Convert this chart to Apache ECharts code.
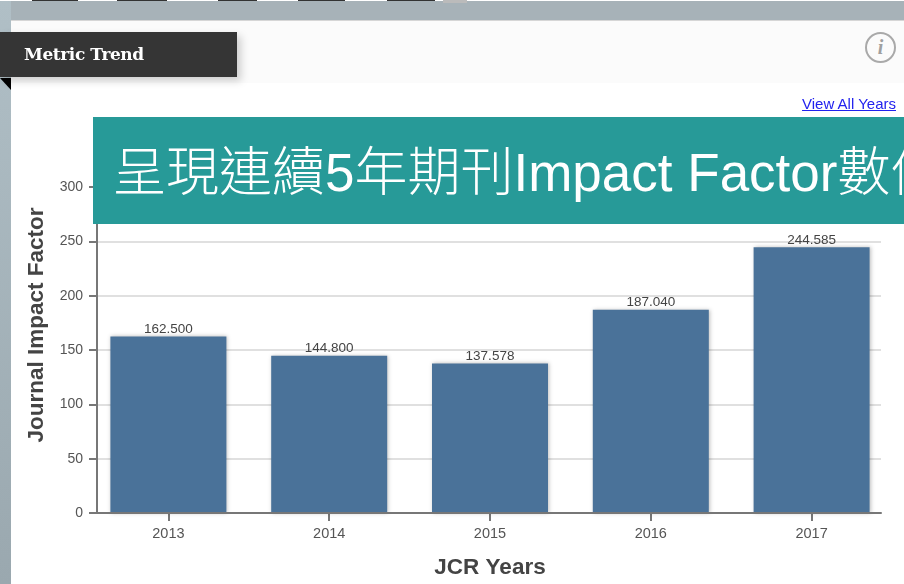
<!DOCTYPE html>
<html>
<head>
<meta charset="utf-8">
<title>Metric Trend</title>
<script src="https://cdn.jsdelivr.net/npm/echarts@6/dist/echarts.min.js"></script>
<style>
    html, body { margin: 0; padding: 0; background: #fff; }
    #page { position: relative; width: 904px; height: 584px; overflow: hidden; background: #fff; }
    #page div, #page a { position: absolute; }
    #top_band { left: 0; top: 1px; width: 904px; height: 19px; background: #a7b2b8; }
    #left_band { left: 0; top: 1px; width: 11px; height: 583px; background: linear-gradient(#b0bfc6, #9aa8af); }
    #card_head { left: 11px; top: 20px; width: 893px; height: 63px; background: #fbfbfb; border-top: 1px solid #d6d6d6; box-sizing: border-box; }
    #main { position: absolute; left: 0; top: 0; width: 904px; height: 584px; }
    #ribbon { left: 0; top: 32px; width: 237px; height: 45px; background: #353535; box-shadow: 4px 4px 8px rgba(0,0,0,.18);
        color: #fff; font: bold 17px/45px "DejaVu Serif", serif; text-indent: 24px; letter-spacing: -0.4px; }
    #ribbon_fold { left: 0; top: 78px; width: 0; height: 0; border-top: 12px solid #000; border-left: 11px solid transparent; }
    #info { left: 865px; top: 32px; width: 27px; height: 27px; border: 2px solid #a9a9a9; border-radius: 50%;
        color: #a0a0a0; font: italic bold 20px/27px "Liberation Serif", serif; text-align: center; }
    #view_all { right: 8px; top: 95px; color: #2222ee; font: 15px "Liberation Sans", sans-serif; text-decoration: underline; }
    #banner { left: 93px; top: 117px; width: 811px; height: 107px; background: #279a98; overflow: hidden; }
    #banner_text { left: 20px; top: 24px; white-space: nowrap; color: #fff; font: 300 53px/64px "Liberation Sans", "Noto Sans CJK TC", sans-serif; }
    .cut { top: 0; height: 1px; background: #333; }
</style>
</head>
<body>
<div id="page">
    <div id="main"></div>
    <div id="top_band"></div>
    <div id="left_band"></div>
    <div id="card_head"></div>
    <div class="cut" style="left:32px;width:46px"></div>
    <div class="cut" style="left:117px;width:50px"></div>
    <div class="cut" style="left:218px;width:39px"></div>
    <div class="cut" style="left:298px;width:47px"></div>
    <div class="cut" style="left:387px;width:48px"></div>
    <div class="cut" style="left:443px;width:24px;height:3px;background:#bbb"></div>
    <div id="ribbon">Metric Trend</div>
    <div id="ribbon_fold"></div>
    <div id="info">i</div>
    <a id="view_all" href="#">View All Years</a>
    <div id="banner"><div id="banner_text">呈現連續5年期刊Impact Factor數值</div></div>
</div>
<script>
"use strict"
var years = ['2013', '2014', '2015', '2016', '2017'];
var impact_factor = [162.500, 144.800, 137.578, 187.040, 244.585];
var y_ticks = [0, 50, 100, 150, 200, 250, 300];
var y_max = 346;
var y_interval = 50;

var chart = echarts.init(document.getElementById('main'), null, { renderer: 'canvas' });

var option = {
    animation: false,
    textStyle: { fontFamily: '"Liberation Sans", Arial, sans-serif' },
    // grid 0 holds the axis frame, grid 1 is a bit wider so the bands land where the bars are
    grid: [
        { left: 97, right: 23, top: 137, bottom: 71, outerBoundsMode: 'none' },
        { left: 88, right: 12, top: 137, bottom: 71, outerBoundsMode: 'none' },
    ],
    xAxis: [
        {
            gridIndex: 0,
            type: 'category',
            data: years,
            z: 5,
            axisLine: { lineStyle: { color: '#777', width: 2 } },
            axisTick: { show: false },
            axisLabel: { show: false },
        },
        {
            gridIndex: 1,
            type: 'category',
            data: years,
            name: 'JCR Years',
            nameLocation: 'middle',
            nameGap: 43,
            nameTextStyle: { color: '#444', fontSize: 22.5, fontWeight: 'bold' },
            axisLine: { show: false },
            axisTick: { show: true, alignWithLabel: true, length: 8, lineStyle: { color: '#777', width: 2 } },
            axisLabel: { color: '#555', fontSize: 14.5, margin: 13 },
        },
    ],
    yAxis: [
        {
            gridIndex: 0,
            type: 'value',
            min: 0,
            max: y_max,
            interval: y_interval,
            name: 'Journal Impact Factor',
            nameLocation: 'middle',
            nameGap: 48,
            nameTextStyle: { color: '#444', fontSize: 22.5, fontWeight: 'bold' },
            axisLine: { show: true, lineStyle: { color: '#777', width: 2 } },
            axisTick: { show: true, length: 8, customValues: y_ticks, lineStyle: { color: '#777', width: 2 } },
            axisLabel: { color: '#555', fontSize: 14, margin: 14, customValues: y_ticks },
            splitLine: { show: true, lineStyle: { color: '#e0e0e0', width: 2 } },
        },
        {
            gridIndex: 1,
            type: 'value',
            min: 0,
            max: y_max,
            interval: y_interval,
            show: false,
            splitLine: { show: false },
        },
    ],
    series: [{
        type: 'bar',
        xAxisIndex: 1,
        yAxisIndex: 1,
        data: impact_factor,
        barWidth: 116,
        itemStyle: {
            color: '#4a7299',
            shadowColor: 'rgba(0,0,0,0.25)',
            shadowBlur: 4,
            shadowOffsetX: 1,
        },
        label: {
            show: true,
            position: 'top',
            distance: 0,
            color: '#444',
            fontSize: 13.5,
            formatter: function (p) {
                return p.value.toFixed(3);
            },
        },
    }],
};
chart.setOption(option);
</script>
</body>
</html>
